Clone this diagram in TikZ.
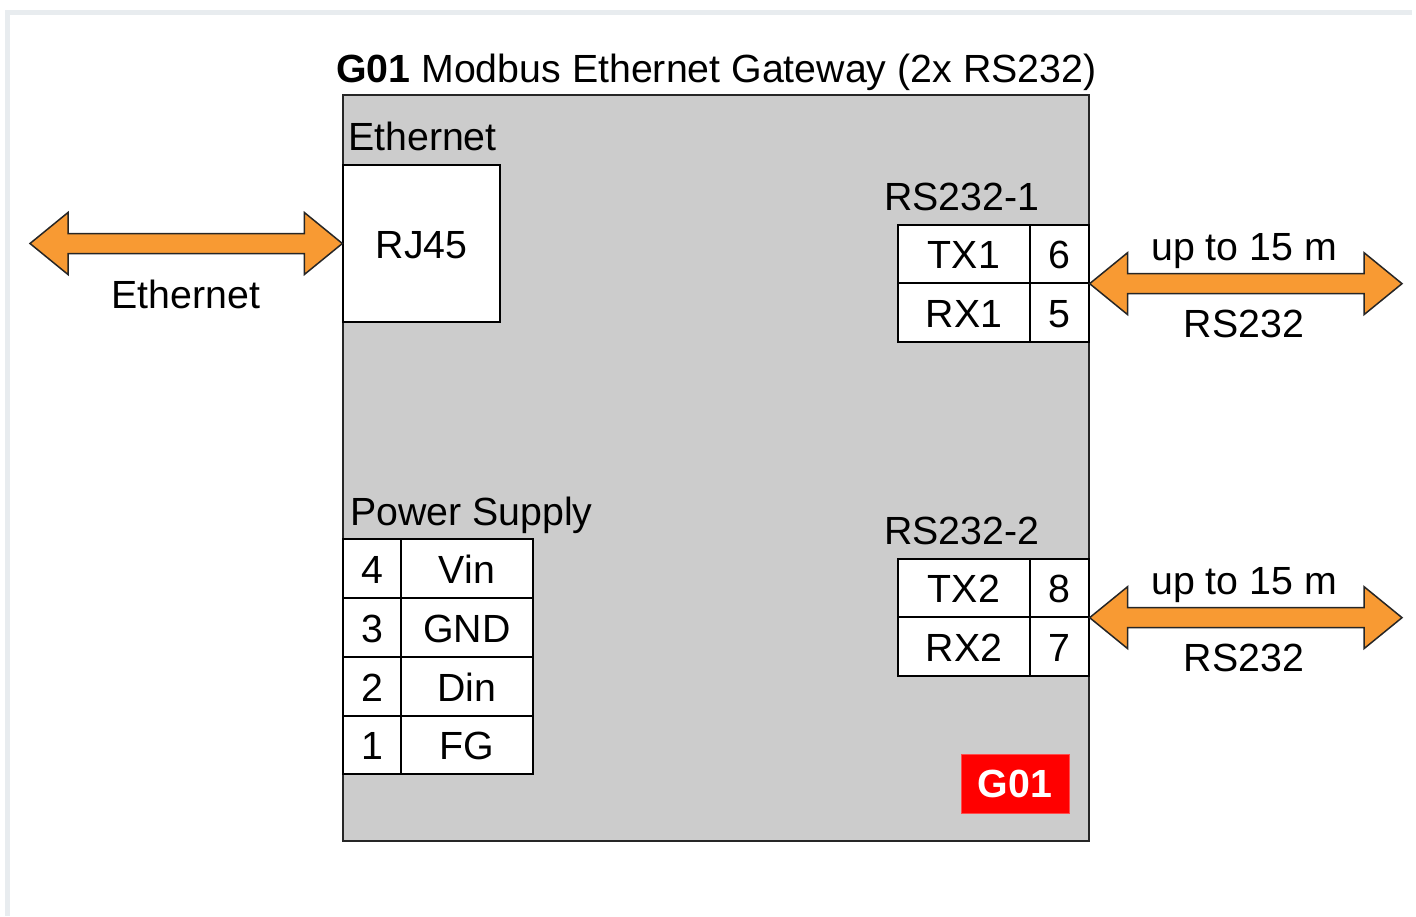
\documentclass[tikz,border=0pt]{standalone}
\usepackage{fontspec}
\setmainfont{Liberation Sans}
\usepackage{xcolor}
\usepackage{tikz}
\usetikzlibrary{calc}
\definecolor{boxgray}{HTML}{CCCCCC}
\definecolor{arrorange}{HTML}{F89A33}
\definecolor{framegray}{HTML}{E8ECEF}
\newcommand{\gwfont}{\fontsize{39.3}{46}\selectfont}
% fat two-headed arrow between two named points (same height)
\newcommand{\fatarrow}[2]{%
  \draw[fatarr] let \p1=(#1), \p2=(#2) in
    (\x1,\y1) -- (\x1+38pt,\y1+31pt) -- (\x1+38pt,\y1+10pt) -- (\x2-38pt,\y1+10pt)
    -- (\x2-38pt,\y1+31pt) -- (\x2,\y1) -- (\x2-38pt,\y1-31pt) -- (\x2-38pt,\y1-10pt)
    -- (\x1+38pt,\y1-10pt) -- (\x1+38pt,\y1-31pt) -- cycle;}

\begin{document}
\begin{tikzpicture}[x=1pt, y=-1pt,
  gw/.style={draw=black!85, fill=boxgray, line width=2pt, inner sep=0pt},
  cell/.style={draw=black, fill=white, line width=1.3pt, inner sep=0pt, font=\gwfont, text height=29pt, text depth=-2pt},
  lbl/.style={inner sep=0pt, font=\gwfont},
  badge/.style={draw=red!70, fill=red, text=white, inner sep=0pt, font=\gwfont\bfseries, minimum width=108pt, minimum height=59pt},
  fatarr/.style={draw=black!85, fill=arrorange, line width=1.5pt, line join=miter}
]
  \useasboundingbox (0,0) rectangle (1416,916);
  % page frame
  \fill[framegray] (5,10) rectangle (1412,15);
  \fill[framegray] (5,10) rectangle (10,916);

  % gateway body
  \node[gw, minimum width=746pt, minimum height=746pt] (gw) at (716,467.5) {};
  \node[lbl, anchor=base west] (title) at (336,82) {\textbf{G01} Modbus Ethernet Gateway (2x RS232)};

  % ethernet port
  \node[lbl, anchor=base west] (ethhead) at (348,150) {Ethernet};
  \node[cell, minimum width=157pt, minimum height=157pt] (rj45) at (421.5,243.5) {RJ45};

  % RS232-1 port
  \node[lbl, anchor=base west] (rs1head) at (884,210) {RS232-1};
  \node[cell, minimum width=132pt, minimum height=58pt] (tx1) at (964,254) {TX1};
  \node[cell, minimum width=59pt, minimum height=58pt] (tx1pin) at (1059.5,254) {6};
  \node[cell, minimum width=132pt, minimum height=59pt] (rx1) at (964,312.5) {RX1};
  \node[cell, minimum width=59pt, minimum height=59pt] (rx1pin) at (1059.5,312.5) {5};

  % RS232-2 port
  \node[lbl, anchor=base west] (rs2head) at (884,544) {RS232-2};
  \node[cell, minimum width=132pt, minimum height=58pt] (tx2) at (964,588) {TX2};
  \node[cell, minimum width=59pt, minimum height=58pt] (tx2pin) at (1059.5,588) {8};
  \node[cell, minimum width=132pt, minimum height=59pt] (rx2) at (964,646.5) {RX2};
  \node[cell, minimum width=59pt, minimum height=59pt] (rx2pin) at (1059.5,646.5) {7};

  % power supply terminal
  \node[lbl, anchor=base west] (pwrhead) at (350,525) {Power Supply};
  \node[cell, minimum width=58pt, minimum height=59pt] (p4) at (372,568.5) {4};
  \node[cell, minimum width=132pt, minimum height=59pt] (vin) at (467,568.5) {Vin};
  \node[cell, minimum width=58pt, minimum height=59pt] (p3) at (372,627.5) {3};
  \node[cell, minimum width=132pt, minimum height=59pt] (gnd) at (467,627.5) {GND};
  \node[cell, minimum width=58pt, minimum height=59pt] (p2) at (372,686.5) {2};
  \node[cell, minimum width=132pt, minimum height=59pt] (din) at (467,686.5) {Din};
  \node[cell, minimum width=58pt, minimum height=58pt] (p1) at (372,745) {1};
  \node[cell, minimum width=132pt, minimum height=58pt] (fg) at (467,745) {FG};

  \node[badge] (tag) at (1015,783.5) {G01};

  % links
  \coordinate (ethtip) at (30,243.5);
  \coordinate (rs1tip) at (1402,283);
  \coordinate (rs2tip) at (1402,617);
  \fatarrow{ethtip}{rj45.west}
  \fatarrow{tx1pin.south east}{rs1tip}
  \fatarrow{tx2pin.south east}{rs2tip}

  \node[lbl, anchor=base] (ethlbl) at (186,308) {Ethernet};
  \node[lbl, anchor=base] (len1) at (1244,260) {up to 15 m};
  \node[lbl, anchor=base] (bus1) at (1244,337) {RS232};
  \node[lbl, anchor=base] (len2) at (1244,594) {up to 15 m};
  \node[lbl, anchor=base] (bus2) at (1244,671) {RS232};
\end{tikzpicture}
\end{document}
